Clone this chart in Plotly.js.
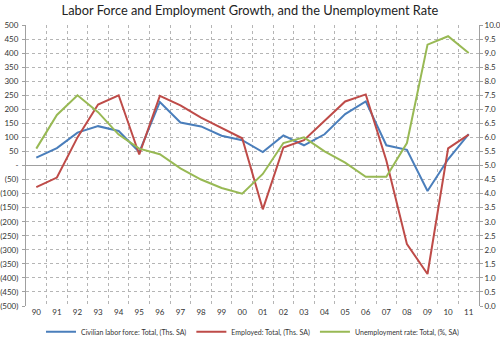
<!DOCTYPE html>
<html>
<head>
<meta charset="utf-8">
<script src="https://cdn.plot.ly/plotly-3.0.1.min.js"></script>
<style>html,body{margin:0;padding:0;background:#fff}#chart{width:500px;height:358px}</style>
</head>
<body>
<div id="chart"></div>
<script>
var years = ["90","91","92","93","94","95","96","97","98","99","00","01","02","03","04","05","06","07","08","09","10","11"];
var laborForce = [28, 62, 117, 140, 123, 48, 226, 153, 139, 106, 90, 48, 107, 72, 111, 183, 228, 72, 56, -91, 22, 112];
var employed = [-77, -43, 100, 217, 250, 39, 248, 214, 170, 134, 97, -156, 64, 90, 159, 228, 253, 18, -280, -386, 61, 110];
var unemploymentRate = [5.6, 6.8, 7.5, 6.9, 6.1, 5.6, 5.4, 4.9, 4.5, 4.2, 4.0, 4.7, 5.8, 6.0, 5.5, 5.1, 4.6, 4.6, 5.8, 9.3, 9.6, 9.0];
var seriesNames = ["Civilian labor force: Total, (Ths. SA)", "Employed: Total, (Ths. SA)", "Unemployment rate: Total, (%, SA)"];
var leftTickVals = [-500,-450,-400,-350,-300,-250,-200,-150,-100,-50,0,50,100,150,200,250,300,350,400,450,500];
var leftTickText = leftTickVals.map(function(v){ return v < 0 ? "(" + (-v) + ")" : (v === 0 ? "-" : String(v)); });

var font = "Lato, 'Open Sans', sans-serif";
var traces = [
  {x: years, y: laborForce, name: seriesNames[0], type: "scatter", mode: "lines", line: {color: "#4A7EBB", width: 2}},
  {x: years, y: employed, name: seriesNames[1], type: "scatter", mode: "lines", line: {color: "#BE4B48", width: 2}},
  {x: years, y: unemploymentRate, name: seriesNames[2], type: "scatter", mode: "lines", yaxis: "y2", line: {color: "#98B954", width: 2}}
];
var layout = {
  width: 500, height: 358,
  margin: {l: 26, r: 21, t: 25, b: 34},
  paper_bgcolor: "#fff", plot_bgcolor: "#fff",
  font: {family: font, color: "#333", size: 8},
  title: {text: "Labor Force and Employment Growth, and the Unemployment Rate", font: {family: font, size: 12.8, color: "#222"}, x: 0.5, xanchor: "center", y: 0.97, yanchor: "middle"},
  showlegend: true,
  legend: {orientation: "h", x: 0.5, xanchor: "center", y: -0.092, yanchor: "middle", bgcolor: "rgba(0,0,0,0)", font: {family: font, size: 7, color: "#333"}, itemwidth: 30, tracegroupgap: 0},
  xaxis: {type: "category", range: [-0.5, 21.5], tickmode: "array", tickvals: years, ticktext: years, tickson: "boundaries", showgrid: true, gridcolor: "#b5b5b5", griddash: "dot", gridwidth: 1, showline: false, ticks: "", zeroline: false, tickfont: {family: font, size: 8, color: "#333"}, fixedrange: true},
  yaxis: {range: [-500, 500], tickvals: leftTickVals, ticktext: leftTickText, showgrid: true, gridcolor: "#b5b5b5", griddash: "dot", gridwidth: 1, zeroline: true, zerolinecolor: "#a0a0a0", zerolinewidth: 1, showline: true, linecolor: "#a0a0a0", linewidth: 1, ticks: "outside", ticklen: 3, tickcolor: "#a0a0a0", tickfont: {family: font, size: 8, color: "#333"}, ticklabelstandoff: 2},
  yaxis2: {range: [0, 10], overlaying: "y", side: "right", dtick: 0.5, tick0: 0, tickformat: ".1f", showgrid: false, zeroline: false, showline: true, linecolor: "#a0a0a0", linewidth: 1, ticks: "outside", ticklen: 3, tickcolor: "#a0a0a0", tickfont: {family: font, size: 8, color: "#333"}}
};
Plotly.newPlot("chart", traces, layout, {displayModeBar: false, staticPlot: true});
</script>
</body>
</html>
